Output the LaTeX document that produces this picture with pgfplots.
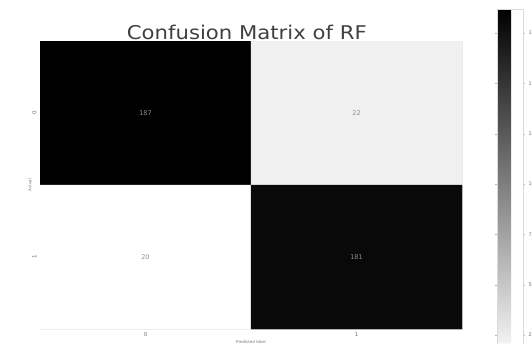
\documentclass[border=0pt]{standalone}
\usepackage{pgfplots}
\pgfplotsset{compat=1.18}
\usepackage{fontspec}
\setmainfont{DejaVu Sans}
\begin{document}
\begin{tikzpicture}
\begin{axis}[
  /pgf/number format/assume math mode=true,
  at={(40bp,15bp)}, anchor=south west,
  width=422bp, height=288bp, scale only axis,
  xmin=-0.5, xmax=1.5, ymin=-0.5, ymax=1.5, y dir=reverse,
  enlargelimits=false,
  xtick={0,1}, ytick={0,1},
  tick label style={font=\fontsize{5.5}{6}\selectfont, text=black!55},
  yticklabel style={rotate=90},
  xlabel={Predicted label}, ylabel={Actual},
  xlabel style={font=\fontsize{4}{5}\selectfont, text=black!55, yshift=3bp},
  ylabel style={font=\fontsize{4}{5}\selectfont, text=black!55, yshift=-6bp},
  title={Confusion Matrix of RF},
  title style={font=\fontsize{19}{22}\selectfont, text=black!75, at={(0.49,1)}, anchor=base, inner sep=0pt, yshift=-4bp, xscale=1.12},
  axis line style={black!8},
  major tick length=2bp, tick style={black!25},
  colormap={cm}{rgb255(0pt)=(255,255,255) rgb255(2pt)=(240,240,240) rgb255(167pt)=(0,0,0)},
  point meta min=20, point meta max=187,
  colorbar,
  colorbar style={
    /pgf/number format/assume math mode=true,
    at={(1.083,1.111)}, anchor=north west,
    width=26bp, height=336bp,
    ytick={25,50,75,100,125,150,175},
    yticklabel pos=right,
    tick align=outside,
    major tick length=2bp,
    tick style={black!30},
    yticklabel style={font=\fontsize{5}{6}\selectfont, text=black!55},
    axis line style={black!15},
  },
  nodes near coords,
  nodes near coords style={font=\fontsize{6.5}{7}\selectfont, text=black!45, anchor=center},
]
\addplot[matrix plot*, mesh/cols=2, point meta=explicit] table[meta=c] {
x y c
0 0 187
1 0 22
0 1 20
1 1 181
};
\end{axis}
\pgfresetboundingbox
\path (0,0) rectangle (532bp,344bp);
\end{tikzpicture}
\end{document}
